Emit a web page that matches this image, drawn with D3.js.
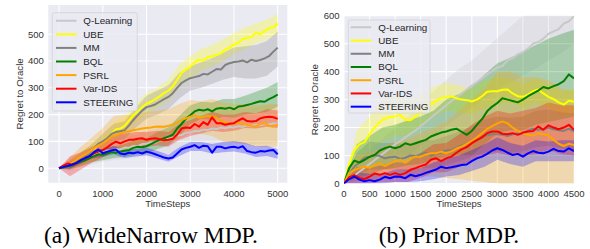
<!DOCTYPE html>
<html><head><meta charset="utf-8">
<script src="https://cdn.jsdelivr.net/npm/d3@7/dist/d3.min.js"></script>
<style>html,body{margin:0;padding:0;background:#fff;}svg{display:block;}</style>
</head><body>
<script>
// ---------- shared ----------
const seriesNames = ["Q-Learning","UBE","MM","BQL","PSRL","Var-IDS","STEERING"];
const seriesColors = ["#c8c8c8","#ffff00","#808080","#008000","#ffa500","#ff0000","#0000ff"];

// ---------- (a) WideNarrow MDP ----------
const wnSteps = d3.range(0, 5001, 100);
const wnBandSteps = d3.range(0, 5001, 250);
const wnXTicks = [0,1000,2000,3000,4000,5000];
const wnYTicks = [0,100,200,300,400,500];

const wnQL   = [0,6,9,16,21,31,34,44,48,57,58,66,65,72,70,77,76,83,82,90,91,97,96,104,105,112,113,122,124,132,133,139,138,144,142,148,146,152,149,154,152,157,155,160,158,162,160,165,163,168,166];
const wnUBE  = [0,6,12,18,26,36,46,58,72,88,98,110,130,145,148,158,178,198,212,228,240,248,258,268,280,290,305,330,355,368,378,395,405,402,415,418,422,428,442,450,462,468,482,486,490,505,500,512,522,525,540];
const wnMM   = [0,5,12,18,26,36,45,55,75,92,100,112,128,135,138,142,160,180,198,215,228,232,238,248,258,266,280,300,318,328,336,340,344,352,350,360,370,368,385,392,396,398,402,395,405,400,404,410,418,435,450];
const wnBQL  = [0,3,8,10,18,25,30,38,45,52,50,55,60,58,62,65,68,76,80,78,82,90,98,106,112,118,125,148,165,185,198,212,218,215,220,212,222,225,222,226,220,230,232,236,240,245,250,248,258,265,275];
const wnPSRL = [0,8,14,22,32,42,52,62,75,85,93,105,118,124,130,135,138,142,145,148,150,152,155,156,155,158,162,170,180,186,192,198,188,192,195,192,188,176,170,168,166,170,165,162,158,156,165,168,158,156,162];
const wnVIDS = [0,10,18,12,20,30,38,45,56,62,68,78,90,99,93,100,106,106,110,112,106,110,112,108,104,106,110,125,148,152,150,165,155,172,162,190,168,168,162,166,168,178,186,176,174,176,186,190,192,190,184];
const wnSTEER= [0,5,9,14,20,30,38,45,60,70,56,62,66,70,55,52,58,56,60,55,62,58,52,46,40,36,40,55,70,76,80,86,76,84,82,58,80,80,74,78,80,76,82,64,60,58,64,62,66,68,52];

const wnQLlo   = [0,-10,5,15,25,30,35,40,45,50,55,65,75,80,82,85,88,90,90,92,95];
const wnQLhi   = [0,35,55,75,95,110,120,125,140,150,165,180,195,200,210,215,220,225,230,235,240];
const wnUBElo  = [0,0,15,40,70,105,125,170,200,225,250,300,335,365,380,400,425,445,465,480,500];
const wnUBEhi  = [0,30,60,90,125,170,190,240,280,300,330,385,420,445,460,480,505,525,540,555,575];
const wnMMlo   = [0,0,15,40,70,100,110,150,185,200,220,260,290,300,315,330,340,335,335,345,380];
const wnMMhi   = [0,30,60,90,130,165,175,225,270,290,310,355,380,395,410,430,450,455,460,475,510];
const wnBQLlo  = [0,-5,8,22,30,38,42,52,55,72,85,120,165,185,180,192,188,200,205,210,230];
const wnBQLhi  = [0,22,42,62,72,80,90,105,112,135,152,195,235,248,245,258,258,270,285,300,322];
const wnPSRLlo = [0,-5,10,25,40,55,65,75,85,90,95,110,130,128,120,100,95,90,80,80,80];
const wnPSRLhi = [0,40,80,115,150,195,200,200,210,215,220,240,255,250,258,245,240,240,235,240,240];
const wnVIDSlo = [0,-30,-5,20,40,65,72,80,80,85,80,105,120,130,140,135,140,150,148,155,150];
const wnVIDShi = [0,45,60,80,100,125,130,135,135,140,135,165,180,195,210,200,200,210,205,220,215];
const wnSTEERlo= [0,-2,18,36,42,52,38,44,48,36,24,46,64,64,55,60,62,55,42,46,35];
const wnSTEERhi= [0,22,44,66,72,84,68,72,76,64,50,78,98,98,90,98,102,95,82,84,72];

// ---------- (b) Prior MDP ----------
const prSteps = d3.range(0, 4501, 100);
const prBandSteps = d3.range(0, 4501, 250);
const prXTicks = [0,500,1000,1500,2000,2500,3000,3500,4000,4500];
const prYTicks = [0,100,200,300,400,500,600];

const prQL   = [0,14,28,42,56,70,84,98,112,126,140,152,165,178,190,205,220,235,250,265,280,294,308,322,336,350,362,376,390,402,415,420,440,448,462,470,482,500,506,518,535,544,552,572,580,598];
const prUBE  = [0,70,118,140,148,175,200,220,232,238,240,245,228,226,240,258,275,282,295,305,308,312,305,300,298,293,300,312,328,330,330,335,336,322,312,310,318,330,336,322,310,302,290,282,296,292];
const prMM   = [0,35,60,75,92,96,102,98,90,94,96,88,92,100,98,104,110,100,106,112,118,120,128,136,142,150,158,168,172,176,176,174,170,176,180,176,190,196,192,195,200,194,190,188,196,186];
const prBQL  = [0,55,82,75,84,95,102,118,126,132,126,132,144,138,144,150,156,168,175,182,186,192,196,185,174,188,210,230,258,275,288,305,300,295,290,300,312,322,332,345,340,348,355,366,390,376];
const prPSRL = [0,38,48,55,60,56,66,72,62,72,79,85,74,90,96,96,104,108,108,114,108,115,125,132,142,152,165,180,195,205,215,222,215,200,188,178,174,172,180,176,172,156,142,134,142,138];
const prVIDS = [0,22,30,20,16,24,36,31,37,31,37,31,37,49,55,62,68,85,90,80,90,96,110,122,130,144,155,165,180,186,186,178,176,180,174,182,186,188,204,192,208,200,194,200,210,192];
const prSTEER= [0,15,25,14,8,12,8,14,24,19,25,24,19,31,26,31,38,44,50,60,55,58,62,66,68,80,90,96,106,118,126,120,110,102,106,96,108,116,110,108,114,124,116,114,126,116];

const prQLlo   = [0,5,20,45,65,95,135,170,205,240,270,305,335,360,385,410,440,465,500];
const prQLhi   = [0,70,120,160,200,240,290,330,370,410,440,480,520,560,600,640,670,700,720];
const prUBElo  = [0,60,110,150,170,170,200,240,260,255,250,270,285,290,270,290,270,245,250];
const prUBEhi  = [0,190,240,300,320,300,320,345,360,350,340,370,380,375,355,375,355,330,340];
const prMMlo   = [0,30,50,50,50,45,55,55,65,80,95,110,115,110,115,130,135,125,120];
const prMMhi   = [0,110,150,145,145,140,155,155,170,185,205,230,240,235,240,260,265,255,250];
const prBQLlo  = [0,20,30,50,55,65,70,85,95,100,100,140,180,190,190,210,220,230,240];
const prBQLhi  = [0,140,170,200,210,225,240,260,300,320,345,390,430,450,470,495,518,535,550];
const prPSRLlo = [0,10,10,15,20,20,25,25,20,15,10,5,0,-10,-20,-20,-25,-30,-30];
const prPSRLhi = [0,100,110,130,150,160,180,200,220,260,300,340,400,400,380,380,370,340,330];
const prVIDSlo = [0,0,0,5,5,5,20,40,40,60,80,100,110,100,100,105,120,105,100];
const prVIDShi = [0,60,55,65,75,75,110,140,145,175,210,240,260,250,260,270,290,280,280];
const prSTEERlo= [0,0,0,0,5,5,8,15,25,30,45,60,85,70,60,80,80,80,80];
const prSTEERhi= [0,40,35,35,50,50,55,75,90,100,120,140,165,145,135,155,150,155,155];

// ---------- drawing ----------
const svg = d3.select("body").append("svg").attr("width",590).attr("height",249);
const sans = "'Liberation Sans', Arial, sans-serif";

function panel(cfg, id){
  const x = d3.scaleLinear().domain(cfg.xDomain).range(cfg.xRange);
  const y = d3.scaleLinear().domain(cfg.yDomain).range(cfg.yRange);
  const g = svg.append("g");
  const [x0,x1] = cfg.xRange, [y1,y0] = cfg.yRange;
  g.append("rect").attr("x",x0).attr("y",y0).attr("width",x1-x0).attr("height",y1-y0).attr("fill","#eaeaf2");
  svg.append("clipPath").attr("id",id).append("rect").attr("x",x0).attr("y",y0).attr("width",x1-x0).attr("height",y1-y0);
  // grid
  g.selectAll(".gx").data(cfg.xTicks).enter().append("line")
    .attr("x1",d=>x(d)).attr("x2",d=>x(d)).attr("y1",y0).attr("y2",y1)
    .attr("stroke","#fff").attr("stroke-width",1.1);
  g.selectAll(".gy").data(cfg.yTicks).enter().append("line")
    .attr("y1",d=>y(d)).attr("y2",d=>y(d)).attr("x1",x0).attr("x2",x1)
    .attr("stroke","#fff").attr("stroke-width",1.1);
  const plot = g.append("g").attr("clip-path",`url(#${id})`);
  // bands
  cfg.series.forEach((s,i)=>{
    const pts = cfg.bandSteps.map((t,k)=>[t,s.lo[k],s.hi[k]]);
    plot.append("path").datum(pts)
      .attr("d", d3.area().x(d=>x(d[0])).y0(d=>y(d[1])).y1(d=>y(d[2])))
      .attr("fill", seriesColors[i]).attr("fill-opacity", 0.27).attr("stroke","none");
  });
  // lines
  cfg.series.forEach((s,i)=>{
    const pts = cfg.steps.map((t,k)=>[t,s.v[k]]);
    plot.append("path").datum(pts)
      .attr("d", d3.line().x(d=>x(d[0])).y(d=>y(d[1])))
      .attr("fill","none").attr("stroke", seriesColors[i]).attr("stroke-width",2)
      .attr("stroke-linejoin","round");
  });
  // ticks
  g.selectAll(".tx").data(cfg.xTicks).enter().append("text")
    .attr("x",d=>x(d)).attr("y",196.5).attr("text-anchor","middle")
    .attr("font-family",sans).attr("font-size",9.5).attr("fill","#333").text(d=>d);
  g.selectAll(".ty").data(cfg.yTicks).enter().append("text")
    .attr("x",x0-4.5).attr("y",d=>y(d)).attr("dy","0.35em").attr("text-anchor","end")
    .attr("font-family",sans).attr("font-size",9.5).attr("fill","#333").text(d=>d);
  // axis labels
  g.append("text").attr("x",(x0+x1)/2).attr("y",206.5).attr("text-anchor","middle")
    .attr("font-family",sans).attr("font-size",9.5).attr("fill","#333").text("TimeSteps");
  g.append("text").attr("transform",`translate(${cfg.yLabelX},${(y0+y1)/2}) rotate(-90)`)
    .attr("text-anchor","middle").attr("dy","0.35em")
    .attr("font-family",sans).attr("font-size",9.7).attr("fill","#333").text("Regret to Oracle");
  // legend
  const L = cfg.legend;
  g.append("rect").attr("x",L.x).attr("y",L.y).attr("width",L.w).attr("height",L.h).attr("rx",2)
    .attr("fill","#eaeaf2").attr("fill-opacity",0.8).attr("stroke","#cccccc").attr("stroke-opacity",0.8).attr("stroke-width",0.8);
  seriesNames.forEach((n,i)=>{
    const yy = L.row0 + i*L.dy;
    g.append("line").attr("x1",L.lx).attr("x2",L.lx+20.5).attr("y1",yy).attr("y2",yy)
      .attr("stroke",seriesColors[i]).attr("stroke-width",2);
    g.append("text").attr("x",L.tx).attr("y",yy).attr("dy","0.35em")
      .attr("font-family",sans).attr("font-size",9.8).attr("fill","#262626").text(n);
  });
  // caption
  const c = svg.append("text").attr("x",cfg.capX).attr("y",243).attr("text-anchor","middle")
    .attr("font-family","'Liberation Serif','Times New Roman',serif").attr("font-size",23.5).attr("fill","#000");
  c.append("tspan").text(cfg.capA);
  c.append("tspan").attr("dx",6).text(cfg.capB);
}

panel({
  xDomain:[-246,5219], xRange:[48.3,287.3],
  yDomain:[-54,609], yRange:[182.7,5],
  xTicks:wnXTicks, yTicks:wnYTicks, steps:wnSteps, bandSteps:wnBandSteps,
  yLabelX:20,
  series:[
    {v:wnQL,lo:wnQLlo,hi:wnQLhi},{v:wnUBE,lo:wnUBElo,hi:wnUBEhi},{v:wnMM,lo:wnMMlo,hi:wnMMhi},
    {v:wnBQL,lo:wnBQLlo,hi:wnBQLhi},{v:wnPSRL,lo:wnPSRLlo,hi:wnPSRLhi},{v:wnVIDS,lo:wnVIDSlo,hi:wnVIDShi},
    {v:wnSTEER,lo:wnSTEERlo,hi:wnSTEERhi}],
  legend:{x:52.3,y:12.7,w:85,h:98.3,row0:20.7,dy:13.6,lx:56,tx:83.3},
  capX:151, capA:"(a)", capB:"WideNarrow MDP."
},"clipA");

panel({
  xDomain:[0,4500], xRange:[344,574],
  yDomain:[0,600], yRange:[183.5,15.7],
  xTicks:prXTicks, yTicks:prYTicks, steps:prSteps, bandSteps:prBandSteps,
  yLabelX:315,
  series:[
    {v:prQL,lo:prQLlo,hi:prQLhi},{v:prUBE,lo:prUBElo,hi:prUBEhi},{v:prMM,lo:prMMlo,hi:prMMhi},
    {v:prBQL,lo:prBQLlo,hi:prBQLhi},{v:prPSRL,lo:prPSRLlo,hi:prPSRLhi},{v:prVIDS,lo:prVIDSlo,hi:prVIDShi},
    {v:prSTEER,lo:prSTEERlo,hi:prSTEERhi}],
  legend:{x:348.3,y:20,w:81.7,h:93,row0:27.3,dy:13.23,lx:350.7,tx:378.3},
  capX:449, capA:"(b)", capB:"Prior MDP."
},"clipB");
</script>
</body></html>
